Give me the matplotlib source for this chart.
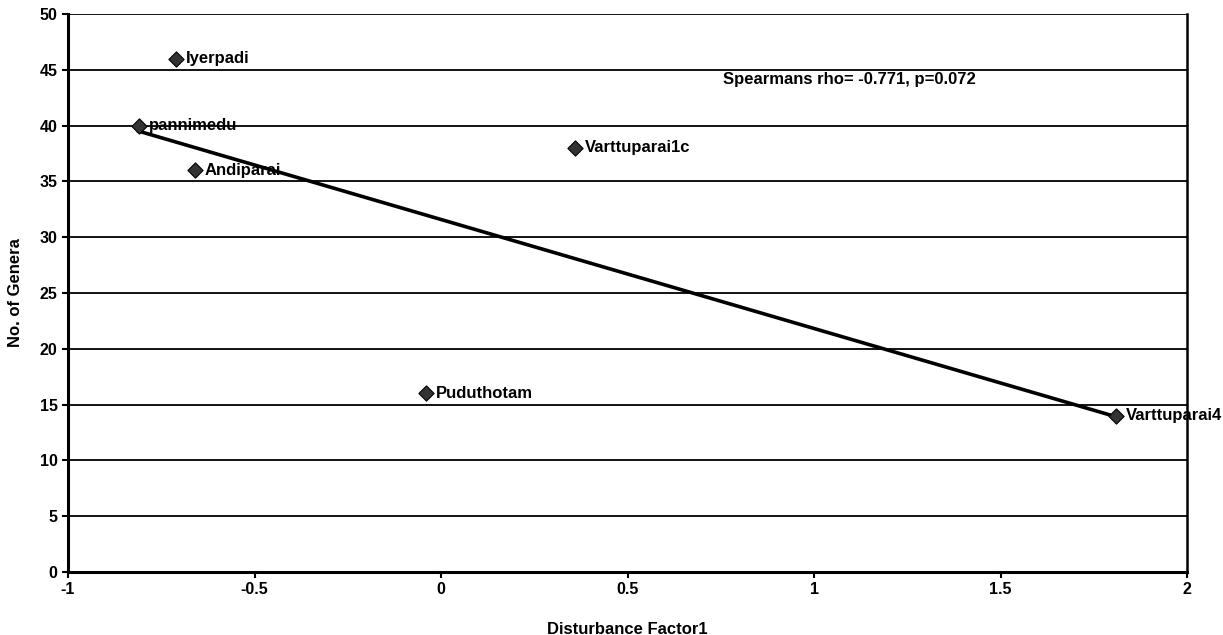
import numpy as np
import matplotlib.pyplot as plt

plt.rcParams['font.family'] = ['Liberation Sans', 'DejaVu Sans']
plt.rcParams['font.weight'] = 'bold'

sites = ["Iyerpadi", "pannimedu", "Andiparai", "Varttuparai1c", "Puduthotam", "Varttuparai4"]
disturbance = [-0.71, -0.81, -0.66, 0.36, -0.04, 1.81]
genera = [46, 40, 36, 38, 16, 14]

fig = plt.figure(figsize=(12.23, 6.35), dpi=100)
ax = fig.add_axes([0.0556, 0.0992, 0.9150, 0.8788])

ax.set_xlim(-1, 2)
ax.set_ylim(0, 50)
ax.set_xticks([-1, -0.5, 0, 0.5, 1, 1.5, 2])
ax.set_xticklabels(["-1", "-0.5", "0", "0.5", "1", "1.5", "2"])
ax.set_yticks(np.arange(0, 51, 5))

# horizontal gridlines
ax.yaxis.grid(True, color='black', linewidth=1.3)
ax.set_axisbelow(True)

# linear trend
slope, intercept = np.polyfit(disturbance, genera, 1)
xs = np.array([min(disturbance), max(disturbance)])
ax.plot(xs, slope * xs + intercept, color='black', linewidth=2.6, zorder=3)

ax.scatter(disturbance, genera, marker='D', s=60, color='#333333',
           edgecolors='black', linewidths=0.8, zorder=4)
for name, x, y in zip(sites, disturbance, genera):
    ax.annotate(name, (x, y), xytext=(7, 0), textcoords='offset points',
                va='center', ha='left', fontsize=12, fontweight='bold', zorder=5)

ax.text(0.755, 44.1, "Spearmans rho= -0.771, p=0.072", fontsize=12,
        fontweight='bold', ha='left', va='center')

for side in ['left', 'bottom']:
    ax.spines[side].set_linewidth(2.2)
ax.spines['right'].set_linewidth(1.8)
ax.spines['top'].set_visible(False)

ax.tick_params(direction='out', length=4, width=1.5, labelsize=11.5)
for lbl in ax.get_xticklabels() + ax.get_yticklabels():
    lbl.set_fontweight('bold')

ax.set_xlabel("Disturbance Factor1", fontsize=12, fontweight='bold', labelpad=18)
ax.set_ylabel("No. of Genera", fontsize=12, fontweight='bold', labelpad=12)

fig.savefig("out.png", dpi=100)
